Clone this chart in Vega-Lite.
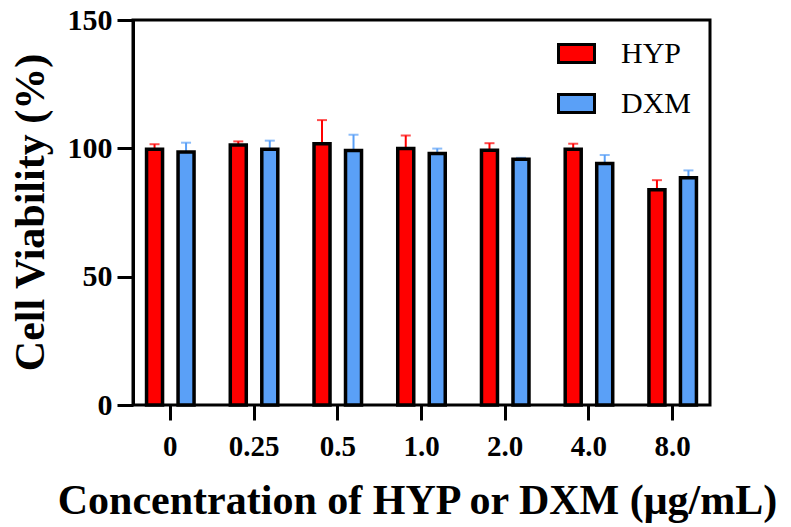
{
  "$schema": "https://vega.github.io/schema/vega-lite/v6.json",
  "autosize": {"type": "none"},
  "padding": {"left": 133, "top": 20, "right": 81, "bottom": 122},
  "width": 577,
  "height": 385,
  "background": "white",
  "config": {
    "view": {"stroke": "black", "strokeWidth": 3},
    "axis": {"labelFont": "Liberation Serif", "titleFont": "Liberation Serif", "labelColor": "black", "titleColor": "black", "domainColor": "black", "tickColor": "black", "domainWidth": 3, "tickWidth": 3, "grid": false, "labelFontWeight": "bold", "titleFontWeight": "bold"}
  },
  "data": {
    "values": [
      {"conc": "0", "group": "HYP", "viability": 99.6, "upper": 101.6},
      {"conc": "0", "group": "DXM", "viability": 98.6, "upper": 102.2},
      {"conc": "0.25", "group": "HYP", "viability": 101.3, "upper": 102.7},
      {"conc": "0.25", "group": "DXM", "viability": 99.6, "upper": 103.0},
      {"conc": "0.5", "group": "HYP", "viability": 101.8, "upper": 111.0},
      {"conc": "0.5", "group": "DXM", "viability": 99.2, "upper": 105.3},
      {"conc": "1.0", "group": "HYP", "viability": 99.9, "upper": 105.0},
      {"conc": "1.0", "group": "DXM", "viability": 98.0, "upper": 99.9},
      {"conc": "2.0", "group": "HYP", "viability": 99.3, "upper": 102.0},
      {"conc": "2.0", "group": "DXM", "viability": 95.7, "upper": 96.3},
      {"conc": "4.0", "group": "HYP", "viability": 99.6, "upper": 101.8},
      {"conc": "4.0", "group": "DXM", "viability": 94.1, "upper": 97.4},
      {"conc": "8.0", "group": "HYP", "viability": 83.9, "upper": 87.6},
      {"conc": "8.0", "group": "DXM", "viability": 88.5, "upper": 91.4}
    ]
  },
  "encoding": {
    "x": {
      "field": "conc", "type": "nominal",
      "scale": {"domain": ["0", "0.25", "0.5", "1.0", "2.0", "4.0", "8.0"], "paddingInner": 0.109, "paddingOuter": 0},
      "axis": {"title": "Concentration of HYP or DXM (μg/mL)", "titleFontSize": 42, "titleX": 284, "titleY": 108, "titleBaseline": "alphabetic", "titleAnchor": null, "titleAlign": "center", "labelAngle": 0, "labelFontSize": 29, "labelBaseline": "alphabetic", "labelPadding": 35, "tickSize": 15, "domain": false}
    },
    "xOffset": {
      "field": "group", "type": "nominal",
      "scale": {"domain": ["HYP", "DXM"], "paddingInner": 0.492, "paddingOuter": 0.43}
    }
  },
  "layer": [
    {
      "mark": {"type": "rule", "strokeWidth": 2},
      "encoding": {
        "y": {"field": "viability", "type": "quantitative"},
        "y2": {"field": "upper"},
        "stroke": {"field": "group", "type": "nominal", "scale": {"domain": ["DXM", "HYP"], "range": ["#5aa0f7", "#ff0000"]}, "legend": null}
      }
    },
    {
      "mark": {"type": "tick", "thickness": 2, "size": 10, "orient": "horizontal"},
      "encoding": {
        "y": {"field": "upper", "type": "quantitative"},
        "fill": {"field": "group", "type": "nominal", "scale": {"domain": ["DXM", "HYP"], "range": ["#5aa0f7", "#ff0000"]}, "legend": null}
      }
    },
    {
      "mark": {"type": "bar", "stroke": "black", "strokeWidth": 3.5},
      "encoding": {
        "y": {
          "field": "viability", "type": "quantitative",
          "scale": {"domain": [0, 150], "nice": false},
          "axis": {"values": [0, 50, 100, 150], "title": "Cell Viability (%)", "titleFontSize": 42, "titleAngle": -90, "titleX": -90, "titleY": 192, "titleBaseline": "alphabetic", "titleAlign": "center", "titleAnchor": null, "labelFontSize": 30, "labelPadding": 5, "tickSize": 16}
        },
        "color": {
          "field": "group", "type": "nominal",
          "scale": {"domain": ["HYP", "DXM"], "range": ["#ff0000", "#5aa0f7"]},
          "legend": {"orient": "none", "legendX": 424, "legendY": 14, "title": null, "symbolType": "M-1,-0.5H1V0.5H-1Z", "symbolSize": 1296, "symbolStrokeWidth": 3, "symbolStrokeColor": "black", "symbolOpacity": 1, "labelFont": "Liberation Serif", "labelFontSize": 30, "labelColor": "black", "labelOffset": 25, "rowPadding": 15, "padding": 0}
        }
      }
    }
  ]
}
